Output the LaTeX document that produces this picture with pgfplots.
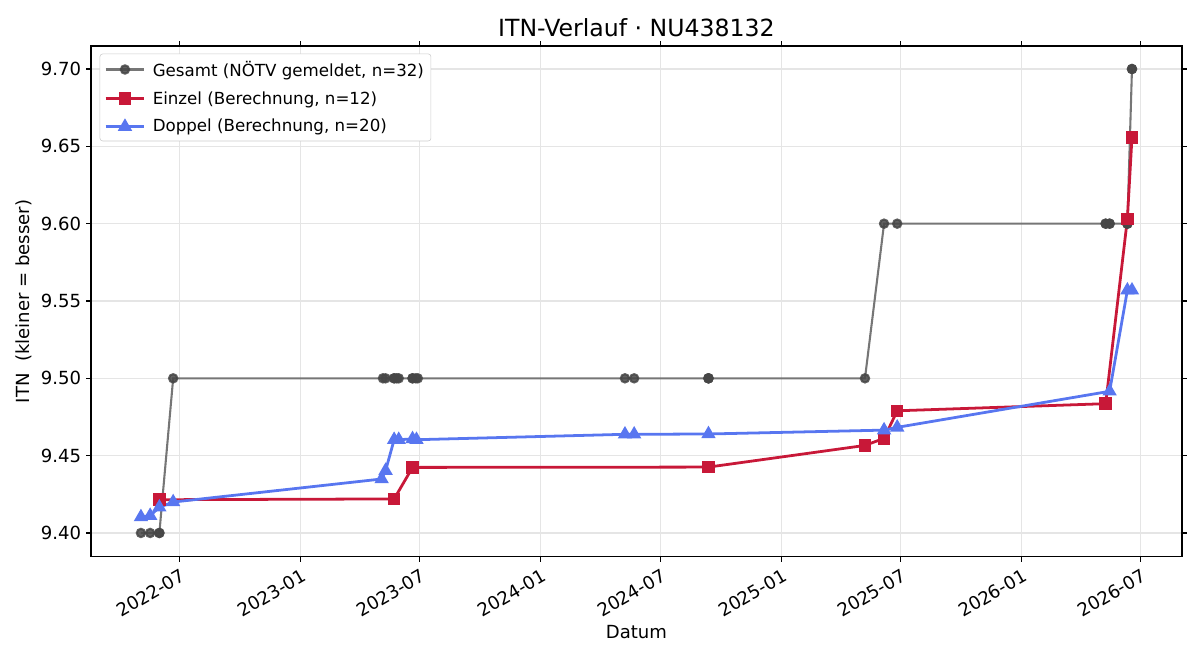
\documentclass[border=0pt]{standalone}
\usepackage{pgfplots}
\pgfplotsset{compat=1.18}
\usepackage{fontspec}
\setmainfont{DejaVu Sans}
\definecolor{cgrey}{RGB}{118,118,118}
\definecolor{cgreym}{RGB}{70,70,70}
\definecolor{cred}{RGB}{200,24,56}
\definecolor{cblue}{RGB}{88,118,240}
\begin{document}
\begin{tikzpicture}
\begin{axis}[
  name=ax,
  scale only axis,
  width=785.5pt, height=367.9pt,
  xmin=46, xmax=1705,
  ymin=9.3845, ymax=9.7149,
  xtick={181,365,546,730,912,1096,1277,1461,1642},
  xticklabels={2022-07,2023-01,2023-07,2024-01,2024-07,2025-01,2025-07,2026-01,2026-07},
  xticklabel style={rotate=30, anchor=north east, font=\fontsize{13}{15}\selectfont, inner sep=2pt, yshift=-2pt},
  ytick={9.40,9.45,9.50,9.55,9.60,9.65,9.70},
  yticklabel style={font=\fontsize{13}{15}\selectfont, /pgf/number format/.cd, fixed, fixed zerofill, precision=2, assume math mode=true},
  /pgf/number format/assume math mode=true,
  tick align=outside,
  major tick length=3.5pt,
  tick style={black, line width=0.8pt},
  axis line style={black, line width=0.8pt},
  grid=major,
  major grid style={black!10, line width=0.8pt},
  xlabel={Datum},
  ylabel={ITN\ \ (kleiner = besser)},
  label style={font=\fontsize{13}{15}\selectfont},
  xlabel style={yshift=1pt},
  title={ITN-Verlauf · NU438132},
  title style={font=\fontsize{17}{20}\selectfont, yshift=-3pt},
  legend style={font=\fontsize{12}{14}\selectfont, draw=black!20, rounded corners=2pt, at={(0.008,0.985)}, anchor=north west, inner sep=3pt, row sep=5.5pt, cells={anchor=west}},
  legend cell align=left,
  legend image code/.code={\draw[mark repeat=2,mark phase=2] plot coordinates {(0pt,0pt) (14pt,0pt) (28pt,0pt)}; \path (31pt,0pt);},
]
\addplot[color=cgrey, line width=1.5pt, mark=*, mark size=3pt, mark options={fill=cgreym, draw=cgreym, fill opacity=0.85, draw opacity=0.85}] coordinates {
(122,9.40) (136,9.40) (150,9.40) (150,9.40) (171,9.50)
(490,9.50) (494,9.50) (507,9.50) (507,9.50) (511,9.50) (514,9.50) (535,9.50) (535,9.50) (540,9.50) (543,9.50)
(858,9.50) (872,9.50) (985,9.50) (985,9.50) (985,9.50) (1223,9.50)
(1252,9.60) (1272,9.60) (1589,9.60) (1589,9.60) (1595,9.60) (1595,9.60) (1622,9.60) (1622,9.60) (1622,9.60)
(1629,9.70) (1629,9.70)
};
\addlegendentry{Gesamt (NÖTV gemeldet, n=32)}
\addplot[color=cred, line width=2pt, mark=square*, mark size=3.5pt, mark options={fill=cred, draw=cred}] coordinates {
(150,9.4215) (507,9.4220) (535,9.4424) (985,9.4426) (1223,9.4566) (1252,9.4612) (1272,9.4790) (1589,9.4836) (1622,9.6030) (1629,9.6558)
};
\addlegendentry{Einzel (Berechnung, n=12)}
\addplot[color=cblue, line width=2pt, mark=triangle*, mark size=4pt, mark options={fill=cblue, draw=cblue}] coordinates {
(122,9.4103) (136,9.4112) (150,9.4166) (171,9.4200) (488,9.4349) (494,9.4403) (507,9.4603) (514,9.4603) (535,9.4608) (541,9.4603)
(858,9.4638) (872,9.4638) (985,9.4640) (1252,9.4665) (1272,9.4683) (1595,9.4916) (1622,9.5569) (1629,9.5569)
};
\addlegendentry{Doppel (Berechnung, n=20)}
\end{axis}
\pgfresetboundingbox
\path ([shift={(-65.5pt,-74.2pt)}]ax.south west) rectangle ([shift={(13pt,33.1pt)}]ax.north east);
\end{tikzpicture}
\end{document}
